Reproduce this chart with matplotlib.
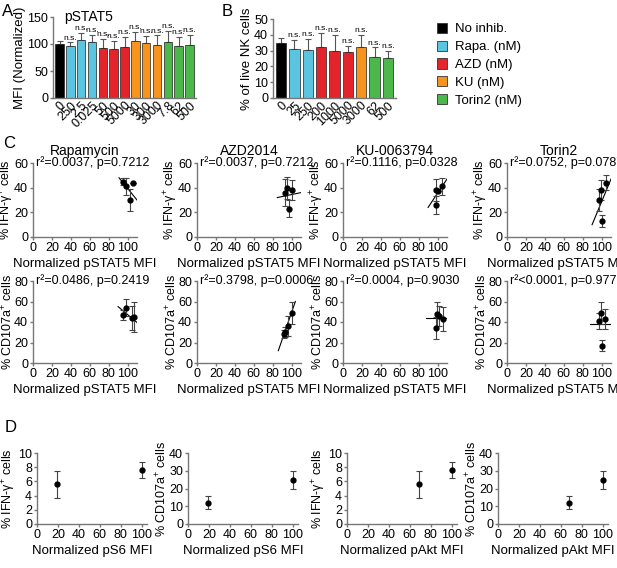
import matplotlib
matplotlib.use("Agg")
import matplotlib.pyplot as plt
from matplotlib.patches import Patch

plt.rcParams['font.family'] = ['Liberation Sans', 'DejaVu Sans']
plt.rcParams['mathtext.fontset'] = 'custom'
plt.rcParams['mathtext.rm'] = 'Liberation Sans'
plt.rcParams['mathtext.default'] = 'regular'
plt.rcParams['font.size'] = 9

W, H = 617, 568

BLACK = "#000000"
BLUE = "#5bc4e0"
RED = "#e3242b"
ORANGE = "#f7941e"
GREEN = "#4cb84b"
AXIS = "#777777"

# ---- panel A: pSTAT5 MFI
a_labels = ["0", "250", "2.5", "0.025", "50", "500", "5000", "30", "300", "3000", "7.8", "62", "500"]
a_values = [100, 97, 107, 104, 92, 90, 95, 105, 101, 99, 104, 97, 99]
a_err = [5, 6, 13, 13, 17, 15, 18, 18, 14, 17, 21, 16, 18]
a_colors = [BLACK, BLUE, BLUE, BLUE, RED, RED, RED, ORANGE, ORANGE, ORANGE, GREEN, GREEN, GREEN]

# ---- panel B: viability
b_labels = ["0", "25", "250", "200", "1000", "5000", "3000", "62", "500"]
b_values = [35, 31, 30.5, 32, 30, 29, 32, 26, 25.5]
b_err = [3, 6, 7, 9, 10, 4, 8, 6, 4.5]
b_colors = [BLACK, BLUE, BLUE, RED, RED, RED, ORANGE, GREEN, GREEN]

legend_names = ["No inhib.", "Rapa. (nM)", "AZD (nM)", "KU (nM)", "Torin2 (nM)"]
legend_colors = [BLACK, BLUE, RED, ORANGE, GREEN]

# ---- panel C: correlations with pSTAT5
c_titles = ["Rapamycin", "AZD2014", "KU-0063794", "Torin2"]
ifn_stats = ["r²=0.0037, p=0.7212", "r²=0.0037, p=0.7212", "r²=0.1116, p=0.0328", "r²=0.0752, p=0.0787"]
ifn_x = [[95, 98, 106, 103], [93, 95, 100, 97], [98, 100, 105, 98], [97, 99, 105, 100]]
ifn_y = [[45, 41, 44, 30], [36, 40, 38, 23], [38, 37, 41, 26], [30, 38, 44, 13]]
ifn_e = [[3, 7, 0, 9], [11, 9, 8, 7], [9, 0, 7, 7], [9, 8, 6, 5]]
ifn_fit_x = [[91, 110], [85, 110], [90, 110], [90, 110]]
ifn_fit_y = [[48, 30], [32, 36], [24, 47], [10, 47]]

cd_stats = ["r²=0.0486, p=0.2419", "r²=0.3798, p=0.0006", "r²=0.0004, p=0.9030", "r²<0.0001, p=0.9773"]
cd_x = [[95, 98, 105, 107], [92, 93, 96, 100], [98, 99, 102, 106], [97, 99, 104, 100]]
cd_y = [[47, 54, 44, 45], [28, 30, 36, 49], [34, 48, 46, 43], [41, 49, 43, 17]]
cd_e = [[5, 8, 12, 15], [4, 5, 10, 11], [11, 12, 10, 12], [8, 11, 10, 5]]
cd_fit_x = [[90, 112], [86, 104], [88, 112], [88, 112]]
cd_fit_y = [[55, 38], [12, 60], [44, 44], [38, 38]]

# ---- panel D: pS6 / pAkt
d_xlabels = ["Normalized pS6 MFI", "Normalized pS6 MFI", "Normalized pAkt MFI", "Normalized pAkt MFI"]
d_x = [[19, 100], [19, 100], [69, 100], [68, 100]]
d_y = [[5.6, 7.6], [12, 25], [5.6, 7.6], [12, 25]]
d_e = [[1.9, 1.1], [3.5, 5], [1.9, 1.1], [3.5, 5]]
d_ymax = [10, 40, 10, 40]
d_ystep = [2, 10, 2, 10]

IFN_LABEL = "% IFN-γ$^{+}$ cells"
CD_LABEL = "% CD107a$^{+}$ cells"


def box(l, t, r, b):
    return [l / W, 1 - b / H, (r - l) / W, (b - t) / H]


def style(ax):
    for s in ["top", "right"]:
        ax.spines[s].set_visible(False)
    for s in ["left", "bottom"]:
        ax.spines[s].set_color(AXIS)
        ax.spines[s].set_linewidth(1)
    ax.tick_params(direction="out", length=2.5, width=1, color=AXIS, pad=1, labelsize=9)


def bar_panel(ax, labels, values, err, colors, ymax, step):
    xs = list(range(len(values)))
    ax.bar(xs, values, width=0.78, color=colors, edgecolor="#222222", linewidth=0.5, zorder=2)
    ax.errorbar(xs, values, yerr=[[0] * len(err), err], fmt="none", ecolor="#555555",
                elinewidth=0.8, capsize=2.5, capthick=0.8, zorder=1)
    for i in xs[1:]:
        ax.text(i, values[i] + err[i] + ymax * 0.01, "n.s.", ha="center", va="bottom", fontsize=6)
    ax.set_xlim(-0.6, len(values) - 0.4)
    ax.set_ylim(0, ymax)
    ax.set_yticks(range(0, ymax + 1, step))
    ax.set_xticks(xs)
    ax.set_xticklabels(labels, rotation=45, ha="right", va="top", rotation_mode="anchor", fontsize=8.5)
    style(ax)
    ax.tick_params(axis="x", length=0)


fig = plt.figure(figsize=(W / 100, H / 100), dpi=100)

axA = fig.add_axes(box(53, 17, 196, 98))
bar_panel(axA, a_labels, a_values, a_err, a_colors, 150, 50)
axA.set_ylabel("MFI (Normalized)", fontsize=9.5, labelpad=1)
axA.text(0.08, 1.0, "pSTAT5", transform=axA.transAxes, fontsize=10, va="center")
fig.text(2 / W, 1 - 12 / H, "A", fontsize=12, va="center")

axB = fig.add_axes(box(273, 19, 396, 98))
bar_panel(axB, b_labels, b_values, b_err, b_colors, 50, 10)
axB.set_ylabel("% of live NK cells", fontsize=9.5, labelpad=1)
fig.text(222 / W, 1 - 12 / H, "B", fontsize=12, va="center")

handles = [Patch(facecolor=c, edgecolor="#333333", linewidth=0.6) for c in legend_colors]
fig.legend(handles, legend_names, loc="upper left", bbox_to_anchor=(430 / W, 1 - 16 / H),
           frameon=False, handlelength=0.8, handleheight=0.8, handletextpad=0.6,
           labelspacing=0.4, fontsize=9.5, borderpad=0)

# panel C
c_left = [33, 197, 343, 507]
rows = [
    (163, 237, 60, IFN_LABEL, ifn_stats, ifn_x, ifn_y, ifn_e, ifn_fit_x, ifn_fit_y),
    (281, 363, 80, CD_LABEL, cd_stats, cd_x, cd_y, cd_e, cd_fit_x, cd_fit_y),
]
for r, (t, b, ymax, ylab, stats, xs, ys, es, fx, fy) in enumerate(rows):
    for k, l in enumerate(c_left):
        ax = fig.add_axes(box(l, t, l + 104, b))
        ax.errorbar(xs[k], ys[k], yerr=es[k], fmt="o", color="black", ms=3.5,
                    ecolor="#444444", elinewidth=0.8, capsize=2.5, capthick=0.8, zorder=3)
        ax.plot(fx[k], fy[k], color="black", lw=0.8, zorder=2)
        ax.set_xlim(0, 110)
        ax.set_ylim(0, ymax)
        ax.set_xticks(range(0, 101, 20))
        ax.set_yticks(range(0, ymax + 1, 20))
        style(ax)
        ax.text(3, ymax, stats[k], fontsize=9, va="center", ha="left")
        ax.set_ylabel(ylab, fontsize=9, labelpad=0)
        ax.yaxis.set_label_coords(-0.165, 0.5)
        ax.set_xlabel("Normalized pSTAT5 MFI", fontsize=9.5, labelpad=3)
        if r == 0:
            ax.set_title(c_titles[k], fontsize=10, pad=6)
fig.text(3 / W, 1 - 143 / H, "C", fontsize=12, va="center")

# panel D
d_left = [37, 188, 347, 498]
for k, l in enumerate(d_left):
    ax = fig.add_axes(box(l, 453, l + 110, 524))
    ax.errorbar(d_x[k], d_y[k], yerr=d_e[k], fmt="o", color="black", ms=3.5,
                ecolor="#444444", elinewidth=0.8, capsize=2.5, capthick=0.8)
    ax.set_xlim(0, 105)
    ax.set_ylim(0, d_ymax[k])
    ax.set_xticks(range(0, 101, 20))
    ax.set_yticks(range(0, d_ymax[k] + 1, d_ystep[k]))
    style(ax)
    ax.set_ylabel(IFN_LABEL if k % 2 == 0 else CD_LABEL, fontsize=9, labelpad=0)
    ax.yaxis.set_label_coords(-0.17, 0.5)
    ax.set_xlabel(d_xlabels[k], fontsize=9.5, labelpad=3)
fig.text(5 / W, 1 - 428 / H, "D", fontsize=12, va="center")

fig.savefig("out.png", dpi=100)
